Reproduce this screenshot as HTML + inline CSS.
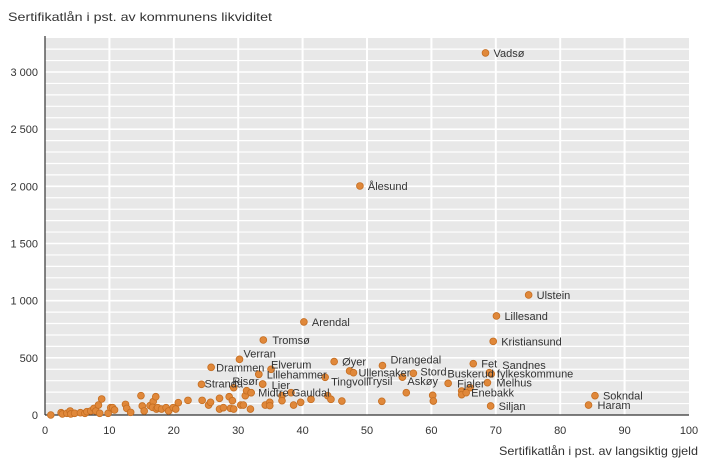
<!DOCTYPE html>
<html><head><meta charset="utf-8"><style>
body{margin:0;background:#fff;}
svg{display:block;font-family:"Liberation Sans",sans-serif;}
</style></head><body>
<svg id="chart" width="719" height="468"></svg>
<script>
const xTicks=[0,10,20,30,40,50,60,70,80,90,100];
const yTicks=[0,500,1000,1500,2000,2500,3000];
const yTickLabels=["0","500","1 000","1 500","2 000","2 500","3 000"];
const xs=[0.9,2.5,2.7,3.4,3.9,4.0,4.6,5.5,6.2,6.5,7.1,7.6,7.9,8.3,8.5,8.8,9.8,10.2,10.5,10.8,12.5,12.7,13.3,14.9,15.1,15.4,16.3,16.8,16.7,17.2,17.3,17.5,18.1,18.8,19.2,19.9,20.3,20.7,22.2,24.4,25.4,25.7,27.1,27.1,27.7,28.6,28.8,29.1,29.3,29.3,30.4,30.8,31.1,31.3,31.9,34.2,34.9,34.9,36.8,36.8,38.2,38.6,39.7,41.3,43.9,44.4,46.1,47.3,56.1,60.2,60.3,52.3,66.0,64.7,64.7,33.2,32.0];
const ys=[0,20,9,15,35,9,15,20,15,29,35,58,35,87,15,140,15,64,64,44,93,58,23,169,79,35,82,117,67,160,52,64,52,64,35,64,52,108,128,128,87,111,52,146,64,160,58,125,52,239,87,87,169,213,52,87,111,82,169,125,195,87,111,137,169,137,122,385,195,172,122,120,239,210,178,356,195];
const labNames=["Vadsø","Ålesund","Ulstein","Lillesand","Arendal","Kristiansund","Tromsø","Verran","Drammen","Elverum","Lillehammer","Risør","Lier","Stranda","Midtre Gauldal","Tingvoll","Øyer","Ullensaker","Trysil","Askøy","Drangedal","Stord","Fet","Sandnes","Buskerud fylkeskommune","Melhus","Fjaler","Enebakk","Siljan","Sokndal","Haram"];
const labX=[68.4,48.9,75.1,70.1,40.2,69.6,33.9,30.2,25.8,35.1,33.2,33.8,33.8,24.3,32.0,43.5,44.9,47.9,55.5,55.5,52.4,57.2,66.5,69.3,69.0,68.7,62.6,65.4,69.2,85.4,84.4];
const labY=[3167,2003,1050,866,814,644,656,487,417,400,356,271,271,268,195,330,467,370,332,332,432,365,449,359,370,283,277,195,79,169,87];
const labDx=[8,8,8,8,8,8,9,4,5,0,8,-4,9,3,7,6,8,5,-10,5,8,7,8,11,-42,9,9,5,8,8,9];
const labDy=[0,0,0,0,0,0,0,-6,0,-5,0,-3,1,-1,0,4,0,0,4,4,-6,-2,0,-9,1,0,0,0,0,0,0];
const labAnchor=["start","start","start","start","start","start","start","start","start","start","start","end","start","start","start","start","start","start","end","start","start","start","start","start","start","start","start","start","start","start","start"];

const L=45,R=689,T=38,B=415;
const sx=v=>L+(v/100)*(R-L);
const sy=v=>B-(v/3000)*(B-72);
const svg=document.getElementById('chart');
const NS='http://www.w3.org/2000/svg';
function mk(tag,attrs,parent){const e=document.createElementNS(NS,tag);for(const k in attrs)e.setAttribute(k,attrs[k]);(parent||svg).appendChild(e);return e;}

const bg=mk('rect',{x:L,y:T,width:R-L,height:B-T,fill:'#e8e8e8'});


const grid=mk('g',{});


for(let v=100;v<=3300;v+=100){const y=sy(v);if(y<T)break;mk('line',{x1:L,x2:R,y1:y,y2:y,stroke:'#fff','stroke-width':v%500===0?1.6:1.2},grid);}
xTicks.forEach(v=>{if(v>0&&v<100)mk('line',{x1:sx(v),x2:sx(v),y1:T,y2:B,stroke:'#fff','stroke-width':2},grid);});

const ax=mk('g',{});


mk('line',{x1:L,x2:L,y1:T-2,y2:B,stroke:'#333','stroke-width':1.2},ax);
mk('line',{x1:L,x2:R,y1:B,y2:B,stroke:'#333','stroke-width':1.2},ax);

xTicks.forEach(v=>{const t=mk('text',{x:sx(v),y:434,'text-anchor':'middle','font-size':11,fill:'#333'});t.textContent=v;

});
yTicks.forEach((v,i)=>{const t=mk('text',{x:38,y:sy(v)+4,'text-anchor':'end','font-size':11,fill:'#333'});t.textContent=yTickLabels[i];

});

const yt=mk('text',{x:8,y:21,'font-size':12,fill:'#333',textLength:264,lengthAdjust:'spacingAndGlyphs'});yt.textContent='Sertifikatlån i pst. av kommunens likviditet';


const xt=mk('text',{x:499,y:455,'font-size':12,fill:'#333',textLength:199,lengthAdjust:'spacingAndGlyphs'});xt.textContent='Sertifikatlån i pst. av langsiktig gjeld';



const pts=mk('g',{});


function dot(x,y){const c=mk('circle',{cx:sx(x),cy:sy(y),r:3.4,fill:'#e0883a',stroke:'#c56e22','stroke-width':0.8},pts);

}
xs.forEach((x,i)=>dot(x,ys[i]));
labX.forEach((x,i)=>dot(x,labY[i]));
labNames.forEach((n,i)=>{const t=mk('text',{x:sx(labX[i])+labDx[i],y:sy(labY[i])+labDy[i]+4,'text-anchor':labAnchor[i],'font-size':11,fill:'#333'});t.textContent=n;

});
</script>
</body></html>
